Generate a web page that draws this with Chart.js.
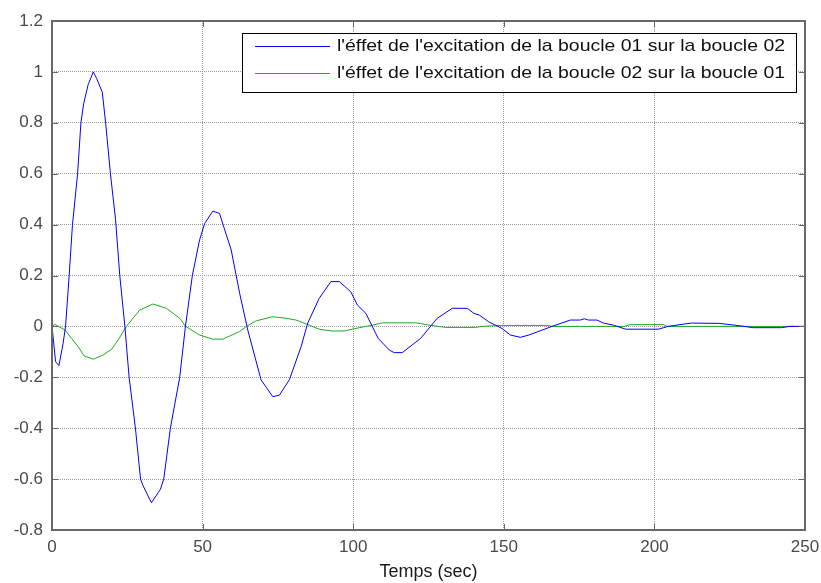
<!DOCTYPE html>
<html lang="fr">
<head>
    <meta charset="UTF-8">
    <title>Effet de l'excitation des boucles</title>
    <script src="https://cdn.jsdelivr.net/npm/chart.js"></script>
    <style>
        * {
            margin: 0;
            padding: 0;
        }
        body {
            background: #fff;
        }
        #chartContainer {
            width: 821px;
            height: 583px;
        }
    </style>
</head>
<body>
    <div id="chartContainer">
        <canvas id="loopChart" width="821" height="583"></canvas>
    </div>

    <script>
        // boucle 01 -> boucle 02 (blue)
        const blueT = [0, 1.2, 2.3, 3.7, 4.5, 5.7, 6.8, 8.5, 9.6, 10.5, 12, 13.7, 14.8, 16.7, 17.8, 19.4, 21.1, 22.5, 24.2,
            25.6, 27.7, 29.4, 30.2, 33, 36, 37.1, 39.3, 42.4, 44.3, 46.6, 49, 50.7, 53.4, 55.6, 59.5, 62.3, 65, 69.4,
            73.3, 75.5, 78.8, 82.7, 84.9, 88.7, 92.6, 95.4, 99.2, 101.4, 104.2, 108.3, 112, 113.6, 116.3, 122.4, 127.9,
            132.9, 137.9, 140.1, 141.8, 145, 149.4, 152.2, 155.5, 158.3, 166, 172.1, 175.4, 176.8, 178.1, 180.9, 183.1,
            186.4, 190.5, 201.3, 204.6, 208.5, 212.3, 221.2, 226.7, 232.8, 242.2, 245, 250];
        const blueY = [0, -0.139, -0.154, -0.066, 0, 0.2, 0.4, 0.6, 0.8, 0.875, 0.95, 1.0, 0.975, 0.92, 0.8, 0.6, 0.42, 0.2, 0,
            -0.2, -0.4, -0.6, -0.625, -0.693, -0.64, -0.6, -0.4, -0.2, 0, 0.2, 0.34, 0.405, 0.453, 0.444, 0.3, 0.13, -0.014, -0.21,
            -0.276, -0.27, -0.21, -0.08, 0.013, 0.11, 0.176, 0.176, 0.136, 0.084, 0.051, -0.047, -0.093, -0.103, -0.103, -0.047, 0.032,
            0.071, 0.071, 0.051, 0.045, 0.018, -0.008, -0.034, -0.043, -0.034, 0, 0.025, 0.025, 0.03, 0.025, 0.025, 0.013,
            0.005, -0.011, -0.011, 0, 0.007, 0.013, 0.012, 0.005, -0.005, -0.005, 0, 0];

        // boucle 02 -> boucle 01 (green)
        const greenT = [0, 1, 1.7, 4.3, 6.5, 8.7, 10.7, 13.7, 17, 19.8, 22, 24.7, 29.1, 33.5, 38, 42.4, 44.4, 49, 53.4, 56.7,
            62.3, 64.5, 67.8, 73.3, 77.7, 81, 85.4, 88.7, 92.6, 97, 99.6, 104.2, 106.4, 109.8, 120.8, 125.2, 130.7, 140.6,
            142.8, 149.4, 164.9, 166, 190, 192, 203, 204.3, 250];
        const greenY = [0, 0.008, 0.003, -0.014, -0.047, -0.08, -0.116, -0.129, -0.112, -0.09, -0.053, 0, 0.064, 0.088, 0.071,
            0.032, 0, -0.034, -0.05, -0.05, -0.02, 0, 0.022, 0.038, 0.032, 0.025, 0.005, -0.011, -0.018, -0.018, -0.011, 0,
            0.005, 0.014, 0.014, 0.005, -0.004, -0.004, 0, 0.004, 0.004, 0, 0, 0.007, 0.007, 0, 0];

        const seriesLabels = [
            "l'éffet de l'excitation de la boucle 01 sur la boucle 02",
            "l'éffet de l'excitation de la boucle 02 sur la boucle 01"
        ];
        const xTitle = 'Temps (sec)';

        const toPoints = (xs, ys) => xs.map((x, i) => ({ x: x, y: ys[i] }));

        const FONT = '"Liberation Sans", Arial, sans-serif';

        // matlab style box, inward ticks and legend inside the axes
        const matlabAxes = {
            id: 'matlabAxes',
            afterDraw(chart) {
                const ctx = chart.ctx;
                const a = chart.chartArea;
                const xs = chart.scales.x;
                const ys = chart.scales.y;
                ctx.save();

                // ticks
                ctx.strokeStyle = '#666';
                ctx.lineWidth = 1;
                ctx.beginPath();
                xs.ticks.forEach(t => {
                    const px = Math.round(xs.getPixelForValue(t.value)) + 0.5;
                    ctx.moveTo(px, a.bottom); ctx.lineTo(px, a.bottom - 6);
                    ctx.moveTo(px, a.top); ctx.lineTo(px, a.top + 6);
                });
                ys.ticks.forEach(t => {
                    const py = Math.round(ys.getPixelForValue(t.value)) + 0.5;
                    ctx.moveTo(a.left, py); ctx.lineTo(a.left + 6, py);
                    ctx.moveTo(a.right, py); ctx.lineTo(a.right - 6, py);
                });
                ctx.stroke();

                // box
                ctx.strokeStyle = '#686868';
                ctx.lineWidth = 2;
                ctx.strokeRect(a.left, a.top, a.right - a.left, a.bottom - a.top);

                // legend (text is a bit wide in the original, so stretch it)
                ctx.font = '17px ' + FONT;
                const textW = Math.max(...seriesLabels.map(s => ctx.measureText(s).width));
                const sx = 448 / textW;
                const bw = 554;
                const bh = 59;
                const bx = a.right - 9 - bw;
                const by = a.top + 12;
                ctx.fillStyle = '#fff';
                ctx.fillRect(bx, by, bw, bh);
                ctx.strokeStyle = '#000';
                ctx.lineWidth = 1;
                ctx.strokeRect(Math.round(bx) + 0.5, by + 0.5, bw, bh);
                chart.data.datasets.forEach((ds, i) => {
                    const ly = by + 13.5 + i * 27;
                    ctx.strokeStyle = ds.borderColor;
                    ctx.beginPath();
                    ctx.moveTo(bx + 13, ly);
                    ctx.lineTo(bx + 88, ly);
                    ctx.stroke();
                    ctx.save();
                    ctx.translate(bx + 95, ly);
                    ctx.scale(sx, 1);
                    ctx.fillStyle = '#111';
                    ctx.textBaseline = 'middle';
                    ctx.textAlign = 'left';
                    ctx.fillText(ds.label, 0, 0);
                    ctx.restore();
                });
                ctx.restore();
            }
        };

        const ctx = document.getElementById('loopChart').getContext('2d');
        const loopChart = new Chart(ctx, {
            type: 'line',
            data: {
                datasets: [
                    {
                        label: seriesLabels[0],
                        data: toPoints(blueT, blueY),
                        borderColor: '#0000ff',
                        borderWidth: 1,
                        pointRadius: 0,
                        tension: 0,
                        fill: false
                    },
                    {
                        label: seriesLabels[1],
                        data: toPoints(greenT, greenY),
                        borderColor: '#1faa1f',
                        borderWidth: 1,
                        pointRadius: 0,
                        tension: 0,
                        fill: false
                    }
                ]
            },
            options: {
                responsive: false,
                animation: false,
                layout: {
                    padding: { top: 21, right: 16, left: 0, bottom: 0 }
                },
                scales: {
                    x: {
                        type: 'linear',
                        min: 0,
                        max: 250,
                        afterFit: s => {
                            s.height = 53;
                            s.paddingLeft = 0;
                            s.paddingRight = 0;
                        },
                        ticks: {
                            stepSize: 50,
                            padding: 7,
                            color: '#4a4a4a',
                            font: { family: FONT, size: 17 },
                            maxRotation: 0
                        },
                        grid: {
                            color: '#9a9a9a',
                            lineWidth: 1,
                            drawTicks: false
                        },
                        border: { display: false, dash: [1, 1] },
                        title: {
                            display: true,
                            text: xTitle,
                            color: '#1a1a1a',
                            font: { family: FONT, size: 18 },
                            padding: { top: 0, bottom: 0 }
                        }
                    },
                    y: {
                        min: -0.8,
                        max: 1.2,
                        afterFit: s => {
                            s.width = 52;
                            s.paddingTop = 0;
                            s.paddingBottom = 0;
                        },
                        ticks: {
                            stepSize: 0.2,
                            padding: 9,
                            color: '#4a4a4a',
                            font: { family: FONT, size: 17 },
                            callback: v => String(Math.abs(v) < 1e-9 ? 0 : +v.toFixed(1))
                        },
                        grid: {
                            color: '#9a9a9a',
                            lineWidth: 1,
                            drawTicks: false
                        },
                        border: { display: false, dash: [1, 1] }
                    }
                },
                plugins: {
                    legend: { display: false },
                    tooltip: { enabled: false }
                }
            },
            plugins: [matlabAxes]
        });
    </script>
</body>
</html>
